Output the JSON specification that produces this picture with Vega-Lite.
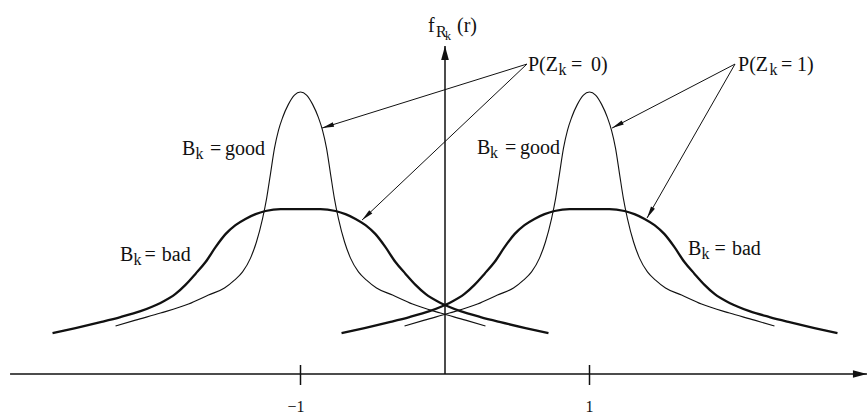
{
  "$schema": "https://vega.github.io/schema/vega-lite/v6.json",
  "width": 867,
  "height": 416,
  "padding": 0,
  "autosize": {"type": "none"},
  "background": "white",
  "config": {"view": {"stroke": null}},
  "datasets": {
    "curves": [
      {"curve": "good_m1", "Bk": "good", "r": -2.280, "f": 0.170},
      {"curve": "good_m1", "Bk": "good", "r": -2.142, "f": 0.191},
      {"curve": "good_m1", "Bk": "good", "r": -1.969, "f": 0.216},
      {"curve": "good_m1", "Bk": "good", "r": -1.775, "f": 0.248},
      {"curve": "good_m1", "Bk": "good", "r": -1.637, "f": 0.280},
      {"curve": "good_m1", "Bk": "good", "r": -1.526, "f": 0.305},
      {"curve": "good_m1", "Bk": "good", "r": -1.457, "f": 0.333},
      {"curve": "good_m1", "Bk": "good", "r": -1.401, "f": 0.362},
      {"curve": "good_m1", "Bk": "good", "r": -1.346, "f": 0.411},
      {"curve": "good_m1", "Bk": "good", "r": -1.305, "f": 0.468},
      {"curve": "good_m1", "Bk": "good", "r": -1.263, "f": 0.550},
      {"curve": "good_m1", "Bk": "good", "r": -1.235, "f": 0.621},
      {"curve": "good_m1", "Bk": "good", "r": -1.208, "f": 0.709},
      {"curve": "good_m1", "Bk": "good", "r": -1.180, "f": 0.801},
      {"curve": "good_m1", "Bk": "good", "r": -1.152, "f": 0.865},
      {"curve": "good_m1", "Bk": "good", "r": -1.125, "f": 0.908},
      {"curve": "good_m1", "Bk": "good", "r": -1.083, "f": 0.957},
      {"curve": "good_m1", "Bk": "good", "r": -1.042, "f": 0.989},
      {"curve": "good_m1", "Bk": "good", "r": -1.000, "f": 1.000},
      {"curve": "good_m1", "Bk": "good", "r": -0.958, "f": 0.989},
      {"curve": "good_m1", "Bk": "good", "r": -0.917, "f": 0.957},
      {"curve": "good_m1", "Bk": "good", "r": -0.875, "f": 0.908},
      {"curve": "good_m1", "Bk": "good", "r": -0.848, "f": 0.865},
      {"curve": "good_m1", "Bk": "good", "r": -0.820, "f": 0.801},
      {"curve": "good_m1", "Bk": "good", "r": -0.792, "f": 0.709},
      {"curve": "good_m1", "Bk": "good", "r": -0.765, "f": 0.621},
      {"curve": "good_m1", "Bk": "good", "r": -0.737, "f": 0.550},
      {"curve": "good_m1", "Bk": "good", "r": -0.695, "f": 0.468},
      {"curve": "good_m1", "Bk": "good", "r": -0.654, "f": 0.411},
      {"curve": "good_m1", "Bk": "good", "r": -0.599, "f": 0.362},
      {"curve": "good_m1", "Bk": "good", "r": -0.543, "f": 0.333},
      {"curve": "good_m1", "Bk": "good", "r": -0.474, "f": 0.305},
      {"curve": "good_m1", "Bk": "good", "r": -0.363, "f": 0.280},
      {"curve": "good_m1", "Bk": "good", "r": -0.225, "f": 0.248},
      {"curve": "good_m1", "Bk": "good", "r": -0.031, "f": 0.216},
      {"curve": "good_m1", "Bk": "good", "r": 0.142, "f": 0.191},
      {"curve": "good_m1", "Bk": "good", "r": 0.280, "f": 0.170},

      {"curve": "good_p1", "Bk": "good", "r": -0.280, "f": 0.170},
      {"curve": "good_p1", "Bk": "good", "r": -0.142, "f": 0.191},
      {"curve": "good_p1", "Bk": "good", "r": 0.031, "f": 0.216},
      {"curve": "good_p1", "Bk": "good", "r": 0.225, "f": 0.248},
      {"curve": "good_p1", "Bk": "good", "r": 0.363, "f": 0.280},
      {"curve": "good_p1", "Bk": "good", "r": 0.474, "f": 0.305},
      {"curve": "good_p1", "Bk": "good", "r": 0.543, "f": 0.333},
      {"curve": "good_p1", "Bk": "good", "r": 0.599, "f": 0.362},
      {"curve": "good_p1", "Bk": "good", "r": 0.654, "f": 0.411},
      {"curve": "good_p1", "Bk": "good", "r": 0.695, "f": 0.468},
      {"curve": "good_p1", "Bk": "good", "r": 0.737, "f": 0.550},
      {"curve": "good_p1", "Bk": "good", "r": 0.765, "f": 0.621},
      {"curve": "good_p1", "Bk": "good", "r": 0.792, "f": 0.709},
      {"curve": "good_p1", "Bk": "good", "r": 0.820, "f": 0.801},
      {"curve": "good_p1", "Bk": "good", "r": 0.848, "f": 0.865},
      {"curve": "good_p1", "Bk": "good", "r": 0.875, "f": 0.908},
      {"curve": "good_p1", "Bk": "good", "r": 0.917, "f": 0.957},
      {"curve": "good_p1", "Bk": "good", "r": 0.958, "f": 0.989},
      {"curve": "good_p1", "Bk": "good", "r": 1.000, "f": 1.000},
      {"curve": "good_p1", "Bk": "good", "r": 1.042, "f": 0.989},
      {"curve": "good_p1", "Bk": "good", "r": 1.083, "f": 0.957},
      {"curve": "good_p1", "Bk": "good", "r": 1.125, "f": 0.908},
      {"curve": "good_p1", "Bk": "good", "r": 1.152, "f": 0.865},
      {"curve": "good_p1", "Bk": "good", "r": 1.180, "f": 0.801},
      {"curve": "good_p1", "Bk": "good", "r": 1.208, "f": 0.709},
      {"curve": "good_p1", "Bk": "good", "r": 1.235, "f": 0.621},
      {"curve": "good_p1", "Bk": "good", "r": 1.263, "f": 0.550},
      {"curve": "good_p1", "Bk": "good", "r": 1.305, "f": 0.468},
      {"curve": "good_p1", "Bk": "good", "r": 1.346, "f": 0.411},
      {"curve": "good_p1", "Bk": "good", "r": 1.401, "f": 0.362},
      {"curve": "good_p1", "Bk": "good", "r": 1.457, "f": 0.333},
      {"curve": "good_p1", "Bk": "good", "r": 1.526, "f": 0.305},
      {"curve": "good_p1", "Bk": "good", "r": 1.637, "f": 0.280},
      {"curve": "good_p1", "Bk": "good", "r": 1.775, "f": 0.248},
      {"curve": "good_p1", "Bk": "good", "r": 1.969, "f": 0.216},
      {"curve": "good_p1", "Bk": "good", "r": 2.142, "f": 0.191},
      {"curve": "good_p1", "Bk": "good", "r": 2.280, "f": 0.170},

      {"curve": "bad_m1", "Bk": "bad", "r": -2.716, "f": 0.145},
      {"curve": "bad_m1", "Bk": "bad", "r": -2.557, "f": 0.163},
      {"curve": "bad_m1", "Bk": "bad", "r": -2.384, "f": 0.184},
      {"curve": "bad_m1", "Bk": "bad", "r": -2.246, "f": 0.202},
      {"curve": "bad_m1", "Bk": "bad", "r": -2.107, "f": 0.223},
      {"curve": "bad_m1", "Bk": "bad", "r": -1.969, "f": 0.252},
      {"curve": "bad_m1", "Bk": "bad", "r": -1.865, "f": 0.284},
      {"curve": "bad_m1", "Bk": "bad", "r": -1.796, "f": 0.316},
      {"curve": "bad_m1", "Bk": "bad", "r": -1.727, "f": 0.355},
      {"curve": "bad_m1", "Bk": "bad", "r": -1.657, "f": 0.397},
      {"curve": "bad_m1", "Bk": "bad", "r": -1.588, "f": 0.450},
      {"curve": "bad_m1", "Bk": "bad", "r": -1.519, "f": 0.496},
      {"curve": "bad_m1", "Bk": "bad", "r": -1.450, "f": 0.528},
      {"curve": "bad_m1", "Bk": "bad", "r": -1.381, "f": 0.550},
      {"curve": "bad_m1", "Bk": "bad", "r": -1.311, "f": 0.567},
      {"curve": "bad_m1", "Bk": "bad", "r": -1.242, "f": 0.578},
      {"curve": "bad_m1", "Bk": "bad", "r": -1.138, "f": 0.585},
      {"curve": "bad_m1", "Bk": "bad", "r": -1.000, "f": 0.585},
      {"curve": "bad_m1", "Bk": "bad", "r": -0.862, "f": 0.585},
      {"curve": "bad_m1", "Bk": "bad", "r": -0.758, "f": 0.578},
      {"curve": "bad_m1", "Bk": "bad", "r": -0.689, "f": 0.567},
      {"curve": "bad_m1", "Bk": "bad", "r": -0.619, "f": 0.550},
      {"curve": "bad_m1", "Bk": "bad", "r": -0.550, "f": 0.528},
      {"curve": "bad_m1", "Bk": "bad", "r": -0.481, "f": 0.496},
      {"curve": "bad_m1", "Bk": "bad", "r": -0.412, "f": 0.450},
      {"curve": "bad_m1", "Bk": "bad", "r": -0.343, "f": 0.397},
      {"curve": "bad_m1", "Bk": "bad", "r": -0.273, "f": 0.355},
      {"curve": "bad_m1", "Bk": "bad", "r": -0.204, "f": 0.316},
      {"curve": "bad_m1", "Bk": "bad", "r": -0.135, "f": 0.284},
      {"curve": "bad_m1", "Bk": "bad", "r": -0.031, "f": 0.252},
      {"curve": "bad_m1", "Bk": "bad", "r": 0.107, "f": 0.223},
      {"curve": "bad_m1", "Bk": "bad", "r": 0.246, "f": 0.202},
      {"curve": "bad_m1", "Bk": "bad", "r": 0.384, "f": 0.184},
      {"curve": "bad_m1", "Bk": "bad", "r": 0.557, "f": 0.163},
      {"curve": "bad_m1", "Bk": "bad", "r": 0.716, "f": 0.145},

      {"curve": "bad_p1", "Bk": "bad", "r": -0.716, "f": 0.145},
      {"curve": "bad_p1", "Bk": "bad", "r": -0.557, "f": 0.163},
      {"curve": "bad_p1", "Bk": "bad", "r": -0.384, "f": 0.184},
      {"curve": "bad_p1", "Bk": "bad", "r": -0.246, "f": 0.202},
      {"curve": "bad_p1", "Bk": "bad", "r": -0.107, "f": 0.223},
      {"curve": "bad_p1", "Bk": "bad", "r": 0.031, "f": 0.252},
      {"curve": "bad_p1", "Bk": "bad", "r": 0.135, "f": 0.284},
      {"curve": "bad_p1", "Bk": "bad", "r": 0.204, "f": 0.316},
      {"curve": "bad_p1", "Bk": "bad", "r": 0.273, "f": 0.355},
      {"curve": "bad_p1", "Bk": "bad", "r": 0.343, "f": 0.397},
      {"curve": "bad_p1", "Bk": "bad", "r": 0.412, "f": 0.450},
      {"curve": "bad_p1", "Bk": "bad", "r": 0.481, "f": 0.496},
      {"curve": "bad_p1", "Bk": "bad", "r": 0.550, "f": 0.528},
      {"curve": "bad_p1", "Bk": "bad", "r": 0.619, "f": 0.550},
      {"curve": "bad_p1", "Bk": "bad", "r": 0.689, "f": 0.567},
      {"curve": "bad_p1", "Bk": "bad", "r": 0.758, "f": 0.578},
      {"curve": "bad_p1", "Bk": "bad", "r": 0.862, "f": 0.585},
      {"curve": "bad_p1", "Bk": "bad", "r": 1.000, "f": 0.585},
      {"curve": "bad_p1", "Bk": "bad", "r": 1.138, "f": 0.585},
      {"curve": "bad_p1", "Bk": "bad", "r": 1.242, "f": 0.578},
      {"curve": "bad_p1", "Bk": "bad", "r": 1.311, "f": 0.567},
      {"curve": "bad_p1", "Bk": "bad", "r": 1.381, "f": 0.550},
      {"curve": "bad_p1", "Bk": "bad", "r": 1.450, "f": 0.528},
      {"curve": "bad_p1", "Bk": "bad", "r": 1.519, "f": 0.496},
      {"curve": "bad_p1", "Bk": "bad", "r": 1.588, "f": 0.450},
      {"curve": "bad_p1", "Bk": "bad", "r": 1.657, "f": 0.397},
      {"curve": "bad_p1", "Bk": "bad", "r": 1.727, "f": 0.355},
      {"curve": "bad_p1", "Bk": "bad", "r": 1.796, "f": 0.316},
      {"curve": "bad_p1", "Bk": "bad", "r": 1.865, "f": 0.284},
      {"curve": "bad_p1", "Bk": "bad", "r": 1.969, "f": 0.252},
      {"curve": "bad_p1", "Bk": "bad", "r": 2.107, "f": 0.223},
      {"curve": "bad_p1", "Bk": "bad", "r": 2.246, "f": 0.202},
      {"curve": "bad_p1", "Bk": "bad", "r": 2.384, "f": 0.184},
      {"curve": "bad_p1", "Bk": "bad", "r": 2.557, "f": 0.163},
      {"curve": "bad_p1", "Bk": "bad", "r": 2.716, "f": 0.145}
    ],
    "axes": [
      {"line": "r axis", "r1": -3.010, "f1": 0, "r2": 2.920, "f2": 0, "head": true},
      {"line": "f axis", "r1": 0, "f1": 0, "r2": 0, "f2": 1.163, "head": true},
      {"line": "tick -1", "r1": -1, "f1": -0.039, "r2": -1, "f2": 0.032, "head": false},
      {"line": "tick 1", "r1": 1, "f1": -0.039, "r2": 1, "f2": 0.032, "head": false}
    ],
    "leaders": [
      {"label": "P(Zk=0)", "target": "good -1", "r1": 0.567, "f1": 1.099, "r2": -0.851, "f2": 0.872},
      {"label": "P(Zk=0)", "target": "bad -1", "r1": 0.567, "f1": 1.099, "r2": -0.574, "f2": 0.546},
      {"label": "P(Zk=1)", "target": "good 1", "r1": 2.007, "f1": 1.099, "r2": 1.156, "f2": 0.872},
      {"label": "P(Zk=1)", "target": "bad 1", "r1": 2.007, "f1": 1.099, "r2": 1.398, "f2": 0.553}
    ],
    "labels": [
      {"text": "f", "part": "main", "r": -0.118, "f": 1.213},
      {"text": "R", "part": "sub", "r": -0.062, "f": 1.195},
      {"text": "k", "part": "subsub", "r": 0.000, "f": 1.184},
      {"text": "(r)", "part": "main", "r": 0.083, "f": 1.213},

      {"text": "P(Z", "part": "main", "r": 0.574, "f": 1.074},
      {"text": "k", "part": "sub", "r": 0.786, "f": 1.061},
      {"text": "=", "part": "main", "r": 0.872, "f": 1.074},
      {"text": "0)", "part": "main", "r": 1.010, "f": 1.074},

      {"text": "P(Z", "part": "main", "r": 2.028, "f": 1.074},
      {"text": "k", "part": "sub", "r": 2.245, "f": 1.061},
      {"text": "=", "part": "main", "r": 2.325, "f": 1.074},
      {"text": "1)", "part": "main", "r": 2.436, "f": 1.074},

      {"text": "B", "part": "main", "r": -1.820, "f": 0.777},
      {"text": "k", "part": "sub", "r": -1.727, "f": 0.762},
      {"text": "=", "part": "main", "r": -1.626, "f": 0.777},
      {"text": "good", "part": "main", "r": -1.522, "f": 0.777},

      {"text": "B", "part": "main", "r": 0.221, "f": 0.780},
      {"text": "k", "part": "sub", "r": 0.311, "f": 0.766},
      {"text": "=", "part": "main", "r": 0.415, "f": 0.780},
      {"text": "good", "part": "main", "r": 0.519, "f": 0.780},

      {"text": "B", "part": "main", "r": -2.249, "f": 0.401},
      {"text": "k", "part": "sub", "r": -2.156, "f": 0.387},
      {"text": "=", "part": "main", "r": -2.080, "f": 0.401},
      {"text": "bad", "part": "main", "r": -1.960, "f": 0.401},

      {"text": "B", "part": "main", "r": 1.682, "f": 0.422},
      {"text": "k", "part": "sub", "r": 1.775, "f": 0.408},
      {"text": "=", "part": "main", "r": 1.865, "f": 0.422},
      {"text": "bad", "part": "main", "r": 1.986, "f": 0.422}
    ],
    "ticklabels": [
      {"text": "\u22121", "r": -1.031, "f": -0.135},
      {"text": "1", "r": 1.0, "f": -0.135}
    ]
  },
  "layer": [
    {
      "data": {"name": "axes"},
      "mark": {"type": "rule", "color": "#111111", "strokeWidth": 1.5},
      "encoding": {
        "x": {"field": "r1", "type": "quantitative", "scale": {"domain": [-3.0796, 2.9204], "nice": false, "zero": false}, "axis": null},
        "y": {"field": "f1", "type": "quantitative", "scale": {"domain": [-0.1489, 1.3262], "nice": false, "zero": false}, "axis": null},
        "x2": {"field": "r2"},
        "y2": {"field": "f2"}
      }
    },
    {
      "data": {"name": "axes"},
      "transform": [
        {"filter": "datum.head"},
        {"calculate": "atan2((datum.r2 - datum.r1) * 144.5, (datum.f2 - datum.f1) * 282) * 180 / PI", "as": "angle"}
      ],
      "mark": {"type": "point", "shape": "M0,0 L0.55,2 L-0.55,2 Z", "size": 196, "filled": true, "opacity": 1, "color": "#111111", "strokeWidth": 0},
      "encoding": {
        "x": {"field": "r2", "type": "quantitative", "scale": {"domain": [-3.0796, 2.9204], "nice": false, "zero": false}, "axis": null},
        "y": {"field": "f2", "type": "quantitative", "scale": {"domain": [-0.1489, 1.3262], "nice": false, "zero": false}, "axis": null},
        "angle": {"field": "angle", "type": "quantitative", "scale": null}
      }
    },
    {
      "data": {"name": "curves"},
      "mark": {"type": "line", "interpolate": "monotone", "color": "#111111"},
      "encoding": {
        "x": {"field": "r", "type": "quantitative", "scale": {"domain": [-3.0796, 2.9204], "nice": false, "zero": false}, "axis": null},
        "y": {"field": "f", "type": "quantitative", "scale": {"domain": [-0.1489, 1.3262], "nice": false, "zero": false}, "axis": null},
        "detail": {"field": "curve", "type": "nominal"},
        "strokeWidth": {"field": "Bk", "type": "nominal", "scale": {"domain": ["good", "bad"], "range": [1.1, 2.3]}, "legend": null}
      }
    },
    {
      "data": {"name": "leaders"},
      "mark": {"type": "rule", "color": "#111111", "strokeWidth": 1},
      "encoding": {
        "x": {"field": "r1", "type": "quantitative", "scale": {"domain": [-3.0796, 2.9204], "nice": false, "zero": false}, "axis": null},
        "y": {"field": "f1", "type": "quantitative", "scale": {"domain": [-0.1489, 1.3262], "nice": false, "zero": false}, "axis": null},
        "x2": {"field": "r2"},
        "y2": {"field": "f2"}
      }
    },
    {
      "data": {"name": "leaders"},
      "transform": [
        {"calculate": "atan2((datum.r2 - datum.r1) * 144.5, (datum.f2 - datum.f1) * 282) * 180 / PI", "as": "angle"}
      ],
      "mark": {"type": "point", "shape": "M0,0 L0.45,2.4 L-0.45,2.4 Z", "size": 100, "filled": true, "opacity": 1, "color": "#111111", "strokeWidth": 0},
      "encoding": {
        "x": {"field": "r2", "type": "quantitative", "scale": {"domain": [-3.0796, 2.9204], "nice": false, "zero": false}, "axis": null},
        "y": {"field": "f2", "type": "quantitative", "scale": {"domain": [-0.1489, 1.3262], "nice": false, "zero": false}, "axis": null},
        "angle": {"field": "angle", "type": "quantitative", "scale": null}
      }
    },
    {
      "data": {"name": "labels"},
      "mark": {"type": "text", "font": "Liberation Serif, Times New Roman, serif", "align": "left", "baseline": "alphabetic", "color": "#111111"},
      "encoding": {
        "x": {"field": "r", "type": "quantitative", "scale": {"domain": [-3.0796, 2.9204], "nice": false, "zero": false}, "axis": null},
        "y": {"field": "f", "type": "quantitative", "scale": {"domain": [-0.1489, 1.3262], "nice": false, "zero": false}, "axis": null},
        "text": {"field": "text", "type": "nominal"},
        "size": {"field": "part", "type": "nominal", "scale": {"domain": ["main", "sub", "subsub"], "range": [20, 12, 9]}, "legend": null}
      }
    },
    {
      "data": {"name": "ticklabels"},
      "mark": {"type": "text", "font": "Liberation Serif, Times New Roman, serif", "fontSize": 16, "align": "center", "baseline": "alphabetic", "color": "#111111"},
      "encoding": {
        "x": {"field": "r", "type": "quantitative", "scale": {"domain": [-3.0796, 2.9204], "nice": false, "zero": false}, "axis": null},
        "y": {"field": "f", "type": "quantitative", "scale": {"domain": [-0.1489, 1.3262], "nice": false, "zero": false}, "axis": null},
        "text": {"field": "text", "type": "nominal"}
      }
    }
  ]
}
